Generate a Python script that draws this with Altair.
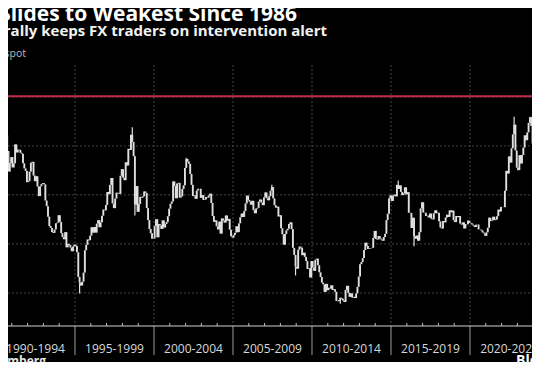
import altair as alt
import pandas as pd

# ---------------- data (USD/JPY monthly closes, read/estimated) ----------------
prior_close = 143.4  # Dec 1989
monthly_close = [
    144.3, 149.8, 157.6, 158.9, 151.9, 152.6, 147.1, 144.3, 137.9, 129.5, 133.0, 135.4,  # 1990
    131.2, 132.9, 140.6, 137.3, 138.5, 138.4, 137.2, 136.8, 132.9, 130.8, 129.8, 125.2,  # 1991
    125.6, 129.5, 133.1, 133.5, 127.9, 125.6, 127.6, 123.4, 119.5, 123.5, 124.4, 124.8,  # 1992
    124.3, 117.7, 115.4, 111.1, 107.3, 106.5, 104.9, 104.5, 105.9, 108.4, 108.7, 111.7,  # 1993
    109.0, 104.4, 102.8, 101.9, 104.8, 98.6, 100.0, 99.6, 98.5, 97.0, 98.9, 99.7,  # 1994
    99.1, 96.6, 86.5, 84.2, 83.0, 84.6, 88.3, 97.4, 99.6, 101.8, 101.5, 103.4,  # 1995
    106.8, 104.6, 106.9, 104.6, 108.3, 109.7, 106.8, 108.8, 111.5, 114.0, 113.7, 115.9,  # 1996
    121.2, 120.3, 124.1, 126.9, 116.5, 114.6, 118.5, 120.9, 120.7, 120.4, 127.8, 130.5,  # 1997
    127.0, 126.0, 133.3, 132.0, 138.8, 138.3, 144.5, 141.6, 135.8, 116.0, 123.6, 113.1,  # 1998
    116.3, 119.2, 118.9, 119.4, 121.4, 120.8, 114.6, 109.7, 106.1, 104.3, 102.1, 102.2,  # 1999
    107.3, 110.1, 102.7, 108.1, 107.6, 106.1, 109.6, 106.7, 108.1, 108.9, 111.3, 114.4,  # 2000
    116.4, 117.3, 125.5, 123.6, 118.6, 124.6, 124.9, 118.9, 119.4, 122.4, 123.9, 131.0,  # 2001
    134.7, 133.6, 132.7, 128.5, 124.1, 119.5, 119.8, 118.4, 121.8, 122.5, 122.5, 118.8,  # 2002
    119.9, 117.9, 118.1, 119.1, 118.9, 119.8, 120.5, 116.7, 111.4, 109.0, 109.6, 107.2,  # 2003
    105.9, 109.1, 104.2, 110.4, 109.6, 108.7, 111.6, 109.5, 110.2, 105.8, 103.1, 102.6,  # 2004
    103.6, 104.6, 107.2, 104.8, 108.4, 110.9, 112.4, 111.0, 113.4, 116.5, 119.7, 117.9,  # 2005
    117.2, 116.0, 117.6, 113.8, 112.5, 114.4, 114.7, 117.3, 118.1, 116.9, 115.8, 119.0,  # 2006
    121.0, 118.6, 117.8, 119.5, 121.7, 123.2, 118.6, 115.8, 114.8, 115.2, 111.2, 111.7,  # 2007
    106.4, 103.9, 99.7, 104.0, 105.5, 106.2, 108.1, 108.8, 106.0, 98.4, 95.5, 90.7,  # 2008
    89.9, 97.6, 98.9, 98.5, 95.4, 96.4, 94.7, 93.0, 89.8, 90.1, 86.3, 93.0,  # 2009
    90.3, 89.0, 93.5, 94.0, 91.3, 88.4, 86.5, 84.2, 83.5, 80.4, 83.7, 81.1,  # 2010
    82.1, 81.8, 83.1, 81.2, 81.5, 80.5, 76.7, 76.6, 77.1, 78.0, 77.6, 76.9,  # 2011
    76.3, 81.2, 82.9, 80.0, 78.4, 79.8, 78.1, 78.4, 77.9, 79.8, 82.5, 86.7,  # 2012
    91.7, 92.6, 94.2, 97.5, 100.5, 99.1, 97.9, 98.1, 98.3, 98.4, 102.4, 105.3,  # 2013
    102.0, 101.8, 103.2, 102.2, 101.8, 101.3, 102.8, 104.1, 109.7, 112.3, 118.6, 119.8,  # 2014
    117.5, 119.6, 120.1, 119.4, 124.1, 122.4, 123.9, 121.2, 119.9, 120.6, 123.1, 120.2,  # 2015
    121.1, 112.7, 112.6, 106.5, 110.7, 103.2, 102.1, 103.4, 101.3, 104.8, 114.5, 117.0,  # 2016
    112.8, 112.7, 111.4, 111.5, 110.8, 112.4, 110.3, 110.0, 112.5, 113.7, 112.5, 112.7,  # 2017
    109.2, 106.7, 106.3, 109.3, 108.8, 110.8, 111.9, 111.0, 113.7, 112.9, 113.6, 109.7,  # 2018
    108.9, 111.4, 110.9, 111.4, 108.3, 107.9, 108.8, 106.3, 108.1, 108.0, 109.5, 108.6,  # 2019
    108.4, 107.9, 107.5, 106.9, 107.8, 107.9, 105.9, 105.9, 105.5, 104.7, 104.3, 103.3,  # 2020
    104.7, 106.6, 110.7, 109.3, 109.6, 111.1, 109.7, 110.0, 111.3, 114.0, 113.2, 115.1,  # 2021
    115.1, 115.0, 121.7, 129.8, 128.7, 135.7, 133.2, 139.0, 144.7, 148.7, 138.1, 131.1,  # 2022
    130.1, 136.2, 132.8, 136.3, 139.3, 144.3, 142.3, 145.5, 149.4, 151.7, 148.2, 141.0,  # 2023
    147.0, 150.0, 151.4, 157.8,  # 2024
]

# intramonth extremes (wicks)
wick_month = ["1990-04", "1995-04", "1998-08", "1998-10", "2002-01", "2007-06",
              "2008-12", "2011-10", "2015-06", "2016-06", "2022-10", "2023-11", "2024-04"]
wick_value = [160.3, 79.8, 147.6, 111.6, 135.2, 124.1,
              87.1, 75.6, 125.9, 99.0, 151.9, 151.9, 160.2]

red_level = 160.2
grid_levels = [80, 100, 120, 140, 160]
period_starts = [1990, 1995, 2000, 2005, 2010, 2015, 2020]
period_labels = ["1990-1994", "1995-1999", "2000-2004", "2005-2009",
                 "2010-2014", "2015-2019", "2020-2024"]

title_text = "Yen Slides to Weakest Since 1986"
subtitle_text = "Dollar's rally keeps FX traders on intervention alert"
unit_text = "Dollar-yen spot"
source_text = "Source: Bloomberg"
brand_text = "Bloomberg"

# ---------------- tables ----------------
W, H = 524, 261
X0, X1 = 1990.76, 2023.924
Y0, Y1 = 66.5, 173.0

rows = []
prev = prior_close
for i, c in enumerate(monthly_close):
    rows.append({"t": 1990 + i / 12 + 1 / 24, "open": prev, "close": c})
    prev = c
df = pd.DataFrame(rows)

wrows = []
for m, v in zip(wick_month, wick_value):
    y, mo = int(m[:4]), int(m[5:])
    idx = (y - 1990) * 12 + (mo - 1)
    wrows.append({"t": 1990 + idx / 12 + 1 / 24, "a": monthly_close[idx], "b": v})
wdf = pd.DataFrame(wrows)

xs = alt.Scale(domain=[X0, X1], nice=False, zero=False)
ys = alt.Scale(domain=[Y0, Y1], nice=False, zero=False)

FONT = "Open Sans"

hgrid = alt.Chart(pd.DataFrame({"v": grid_levels})).mark_rule(
    color="#454545", strokeWidth=1, strokeDash=[2, 2]
).encode(y=alt.Y("v:Q", scale=ys, axis=None), x=alt.value(0), x2=alt.value(W))

vgrid = alt.Chart(pd.DataFrame({"t": period_starts})).mark_rule(
    color="#454545", strokeWidth=1, strokeDash=[2, 2], clip=True
).encode(x=alt.X("t:Q", scale=xs, axis=None), y=alt.value(0), y2=alt.value(H))

seps = alt.Chart(pd.DataFrame({"t": period_starts[1:]})).mark_rule(
    color="#9a9a9a", strokeWidth=1
).encode(x=alt.X("t:Q", scale=xs, axis=None), y=alt.value(H), y2=alt.value(H + 29))

years = [y for y in range(1991, 2024) if y % 5 != 0]
yticks = alt.Chart(pd.DataFrame({"t": years})).mark_rule(
    color="#bdbdbd", strokeWidth=1
).encode(x=alt.X("t:Q", scale=xs, axis=None), y=alt.value(H - 3), y2=alt.value(H))

axis_line = alt.Chart(pd.DataFrame({"a": [0]})).mark_rule(
    color="#cfcfcf", strokeWidth=1
).encode(y=alt.value(H), x=alt.value(0), x2=alt.value(W))

red = alt.Chart(pd.DataFrame({"v": [red_level], "a": [1990.0], "b": [2023.95]})).mark_rule(
    color="#c02e48", strokeWidth=2, clip=True
).encode(y=alt.Y("v:Q", scale=ys, axis=None), x=alt.X("a:Q", scale=xs, axis=None), x2="b:Q")

bars = alt.Chart(df).mark_rule(color="#e0e0e0", strokeWidth=1.9, clip=True).encode(
    x=alt.X("t:Q", scale=xs, axis=None),
    y=alt.Y("open:Q", scale=ys, axis=None),
    y2="close:Q",
)

wicks = alt.Chart(wdf).mark_rule(color="#e0e0e0", strokeWidth=1.2, clip=True).encode(
    x=alt.X("t:Q", scale=xs, axis=None),
    y=alt.Y("a:Q", scale=ys, axis=None),
    y2="b:Q",
)

plabels = alt.Chart(pd.DataFrame({
    "t": [s + 2.5 for s in period_starts], "label": period_labels
})).mark_text(font=FONT, fontSize=12, color="#d8d8d8", baseline="middle", align="center").encode(
    x=alt.X("t:Q", scale=xs, axis=None), y=alt.value(H + 23), text="label:N"
)


def txt(s, x, y, size, weight, color, align):
    return alt.Chart(pd.DataFrame({"s": [s]})).mark_text(
        font=FONT, fontSize=size, fontWeight=weight, color=color,
        align=align, baseline="alphabetic"
    ).encode(x=alt.value(x), y=alt.value(y), text="s:N")


title = txt(title_text, 289, -44, 21, "bold", "#ffffff", "right")
subtitle = txt(subtitle_text, 319, -29, 15, "bold", "#f2f2f2", "right")
unit = txt(unit_text, 18, -8, 10.5, "normal", "#bdbdbd", "right")
source = txt(source_text, 38, 300, 12, "bold", "#e6e6e6", "right")
brand = txt(brand_text, 508, 300, 14, "bold", "#ffffff", "left")

chart = alt.layer(
    hgrid, vgrid, seps, yticks, axis_line, red, wicks, bars, plabels,
    title, subtitle, unit, source, brand
).properties(
    width=W, height=H,
    background="#000000",
    padding={"left": 0, "top": 57, "right": 0, "bottom": 36},
    autosize=alt.AutoSizeParams(type="none"),
).configure_view(stroke=None)

chart.save("out.html", embed_options={"renderer": "svg", "actions": False})
